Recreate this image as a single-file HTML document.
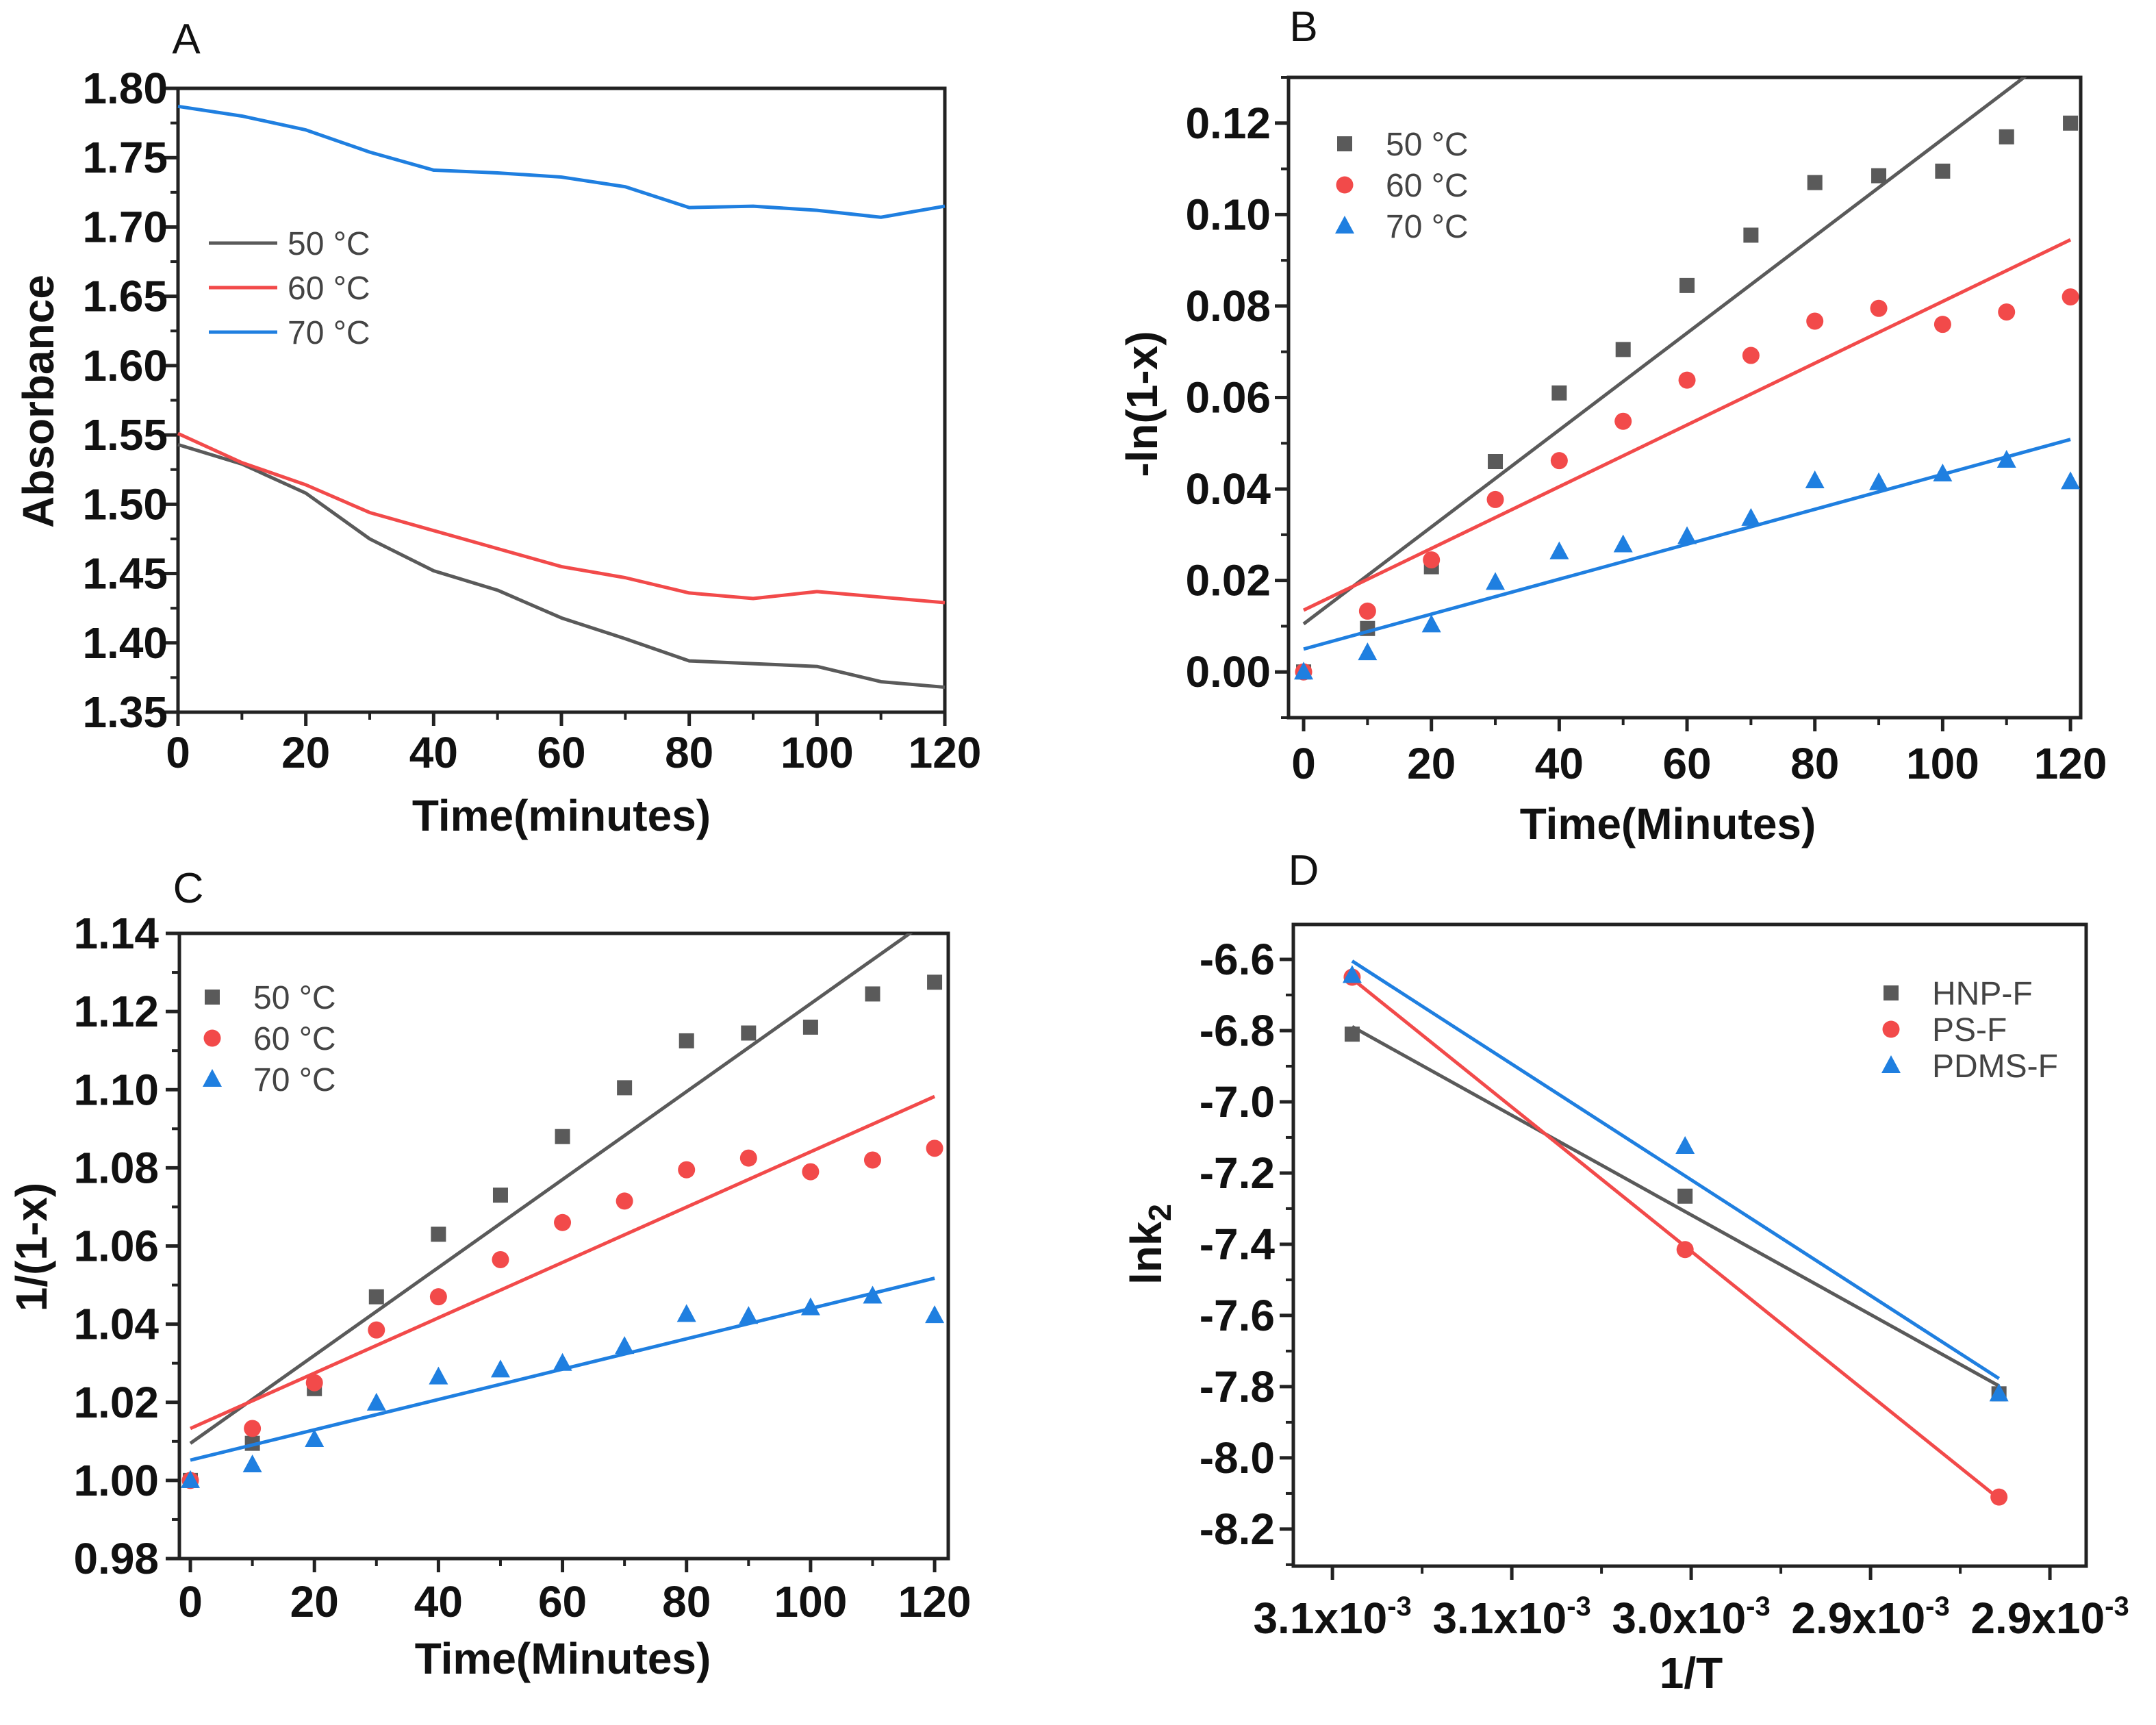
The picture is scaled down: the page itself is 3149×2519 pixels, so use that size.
<!DOCTYPE html>
<html><head><meta charset="utf-8">
<style>html,body{margin:0;padding:0;background:#fff}svg{display:block}
text{font-family:"Liberation Sans",Arial,sans-serif}</style></head>
<body>
<svg id="fig" xmlns="http://www.w3.org/2000/svg" width="3149" height="2519" viewBox="0 0 3149 2519"></svg>
<script>
// ---------- DATA ----------
const timeMin = [0,10,20,30,40,50,60,70,80,90,100,110,120];
const seriesNames = ["50 °C","60 °C","70 °C"];
const absorb50 = [1.543,1.529,1.508,1.475,1.452,1.438,1.418,1.403,1.387,1.385,1.383,1.372,1.368];
const absorb60 = [1.551,1.530,1.514,1.494,1.481,1.468,1.455,1.447,1.436,1.432,1.437,1.433,1.429];
const absorb70 = [1.787,1.780,1.770,1.754,1.741,1.739,1.736,1.729,1.714,1.715,1.712,1.707,1.715];
const lnB50 = [0,0.0095,0.023,0.046,0.061,0.0705,0.0845,0.0955,0.107,0.1085,0.1095,0.117,0.120];
const lnB60 = [0,0.0133,0.0245,0.0377,0.0462,0.0548,0.0638,0.0692,0.0767,0.0795,0.076,0.0787,0.082];
const lnB70 = [0,0.0042,0.0103,0.0196,0.0263,0.0278,0.0296,0.0336,0.0418,0.0414,0.0433,0.0463,0.0416];
const fitBIntercept = [0.0105,0.0135,0.0050];
const fitBSlope = [0.00106,0.000675,0.000382];
const invC50 = [1.0,1.0095,1.0235,1.047,1.063,1.073,1.088,1.1005,1.1125,1.1145,1.116,1.1245,1.1275];
const invC60 = [1.0,1.0133,1.025,1.0385,1.047,1.0565,1.066,1.0715,1.0795,1.0825,1.079,1.082,1.085];
const invC70 = [1.0,1.004,1.0105,1.0198,1.0265,1.0283,1.0300,1.0343,1.0425,1.042,1.0442,1.0472,1.0422];
const fitCIntercept = [1.0095,1.0133,1.0052];
const fitCSlope = [0.001125,0.000708,0.000388];
const invT = [0.0030945,0.0030017,0.0029142];
const dNames = ["HNP-F","PS-F","PDMS-F"];
const lnkHNP = [-6.81,-7.265,-7.82];
const lnkPS = [-6.65,-7.415,-8.11];
const lnkPDMS = [-6.645,-7.125,-7.82];
const ticksA_y = [1.35,1.40,1.45,1.50,1.55,1.60,1.65,1.70,1.75,1.80];
const ticksTime = [0,20,40,60,80,100,120];
const ticksB_y = [0,0.02,0.04,0.06,0.08,0.10,0.12];
const ticksC_y = [0.98,1.00,1.02,1.04,1.06,1.08,1.10,1.12,1.14];
const ticksD_y = [-8.2,-8.0,-7.8,-7.6,-7.4,-7.2,-7.0,-6.8,-6.6];
const ticksD_x = [0.00310,0.00305,0.00300,0.00295,0.00290];
const ticksD_xLabels = ["3.1","3.1","3.0","2.9","2.9"];

// ---------- HELPERS ----------
const NS="http://www.w3.org/2000/svg";
const svg=document.getElementById('fig');
const COLORS=["#5a5a5a","#f24a4a","#1f7fe0"];
function mk(tag,attrs,parent){const e=document.createElementNS(NS,tag);for(const k in attrs)e.setAttribute(k,attrs[k]);(parent||svg).appendChild(e);return e;}
function txt(s,x,y,size,weight,anchor,parent){const t=mk('text',{x:x,y:y,'font-size':size,'font-weight':weight||'normal','text-anchor':anchor||'middle',fill:'#111'},parent);t.textContent=s;return t;}

function makePanel(name,box,xr,yr){
  const g=mk('g',{});
  
  
  const sx=v=>box.x0+(v-xr[0])/(xr[1]-xr[0])*(box.x1-box.x0);
  const sy=v=>box.y1-(v-yr[0])/(yr[1]-yr[0])*(box.y1-box.y0);
  const cid='clip-'+name;
  const cp=mk('clipPath',{id:cid},g);
  mk('rect',{x:box.x0,y:box.y0,width:box.x1-box.x0,height:box.y1-box.y0},cp);
  const frame=mk('rect',{x:box.x0,y:box.y0,width:box.x1-box.x0,height:box.y1-box.y0,fill:'none',stroke:'#222','stroke-width':5},g);
  
  
  return {g,sx,sy,box,cid};
}
function yAxis(P,ticks,minorStep,fmt,labelX){
  const ax=mk('g',{},P.g);
  
  
  const lo=Math.min(...ticks),hi=Math.max(...ticks);
  ticks.forEach(v=>{
    const y=P.sy(v);
    mk('line',{x1:P.box.x0-20,x2:P.box.x0,y1:y,y2:y,stroke:'#222','stroke-width':5},ax);
    const t=txt(fmt(v),labelX,y+22,64,'bold','end',ax);
    
    
  });
  for(let v=lo-minorStep;v<=hi+minorStep+1e-9;v+=minorStep*2){
    const y=P.sy(v); if(y<P.box.y0-1||y>P.box.y1+1)continue;
    mk('line',{x1:P.box.x0-11,x2:P.box.x0,y1:y,y2:y,stroke:'#222','stroke-width':4},ax);
  }
}
function xAxis(P,ticks,labels,labelY,minorVals){
  const ax=mk('g',{},P.g);
  
  
  ticks.forEach((v,i)=>{
    const x=P.sx(v);
    mk('line',{x1:x,x2:x,y1:P.box.y1,y2:P.box.y1+20,stroke:'#222','stroke-width':5},ax);
    if(labels){const t=txt(labels[i],x,labelY,64,'bold','middle',ax);
      
      }
  });
  minorVals.forEach(v=>{const x=P.sx(v);
    mk('line',{x1:x,x2:x,y1:P.box.y1,y2:P.box.y1+11,stroke:'#222','stroke-width':4},ax);});
}
function title(P,s,x,y,rot,name){
  const t=txt(s,x,y,64,'bold','middle',P.g);
  if(rot)t.setAttribute('transform','rotate(-90 '+x+' '+y+')');
  
  
  return t;
}
function marker(kind,x,y,color,parent){
  if(kind===0)return mk('rect',{x:x-11,y:y-11,width:22,height:22,fill:color},parent);
  if(kind===1)return mk('circle',{cx:x,cy:y,r:12.5,fill:color},parent);
  return mk('polygon',{points:(x)+','+(y-15)+' '+(x-14)+','+(y+11)+' '+(x+14)+','+(y+11),fill:color},parent);
}
function scatter(P,xs,ys,kind,color,name){
  const g=mk('g',{'clip-path':'url(#'+P.cid+')'},P.g);
  
  
  xs.forEach((xv,i)=>{const m=marker(kind,P.sx(xv),P.sy(ys[i]),color,g);
    
    });
}
function fitLine(P,xa,xb,b,m,color,name){
  const l=mk('line',{x1:P.sx(xa),y1:P.sy(b+m*xa),x2:P.sx(xb),y2:P.sy(b+m*xb),stroke:color,'stroke-width':5,'clip-path':'url(#'+P.cid+')'},P.g);
  
  
}
function legendEntry(P,kind,x,y,textX,label,color,isLine){
  const g=mk('g',{},P.g);
  
  
  if(isLine)mk('line',{x1:x-50,x2:x+50,y1:y,y2:y,stroke:color,'stroke-width':5},g);
  else marker(kind,x,y,color,g);
  const t=txt(label,textX,y+17,48,'normal','start',g);t.setAttribute('fill','#444');
}
function panelLetter(s,x,y){const t=txt(s,x,y,62,'normal','middle');
  
  }
const timeMinor=[10,30,50,70,90,110];

// ---------- PANEL A ----------
{
  const P=makePanel('panel-a-absorbance',{x0:260,x1:1380,y0:129,y1:1040},[0,120],[1.35,1.80]);
  yAxis(P,ticksA_y,0.025,v=>v.toFixed(2),245);
  xAxis(P,ticksTime,ticksTime.map(String),1121,timeMinor);
  title(P,'Absorbance',78,586,true,'y-axis-title');
  title(P,'Time(minutes)',820,1213,false,'x-axis-title');
  [absorb50,absorb60,absorb70].forEach((arr,k)=>{
    const pts=timeMin.map((t,i)=>P.sx(t)+','+P.sy(arr[i])).join(' ');
    const pl=mk('polyline',{points:pts,fill:'none',stroke:COLORS[k],'stroke-width':5,'stroke-linejoin':'round'},P.g);
    
    
    legendEntry(P,k,355,355+k*65,420,seriesNames[k],COLORS[k],true);
  });
  panelLetter('A',272,78);
}
// ---------- PANEL B ----------
{
  const P=makePanel('panel-b-first-order',{x0:1882,x1:3039,y0:113,y1:1048},[-2.36,121.6],[-0.01,0.13]);
  yAxis(P,ticksB_y,0.01,v=>v.toFixed(2),1856);
  xAxis(P,ticksTime,ticksTime.map(String),1137,timeMinor);
  title(P,'-ln(1-x)',1690,590,true,'y-axis-title');
  title(P,'Time(Minutes)',2436,1225,false,'x-axis-title');
  [lnB50,lnB60,lnB70].forEach((arr,k)=>{
    fitLine(P,0,120,fitBIntercept[k],fitBSlope[k],COLORS[k],'fit-line-'+(50+10*k)+'c');
    scatter(P,timeMin,arr,k,COLORS[k],'series-'+(50+10*k)+'c');
    legendEntry(P,k,1964,210+k*60,2024,seriesNames[k],COLORS[k],false);
  });
  panelLetter('B',1904,60);
}
// ---------- PANEL C ----------
{
  const P=makePanel('panel-c-second-order',{x0:262,x1:1385,y0:1363,y1:2276},[-1.77,122.2],[0.98,1.14]);
  yAxis(P,ticksC_y,0.01,v=>v.toFixed(2),232);
  xAxis(P,ticksTime,ticksTime.map(String),2361,timeMinor);
  title(P,'1/(1-x)',68,1821,true,'y-axis-title');
  title(P,'Time(Minutes)',822,2444,false,'x-axis-title');
  [invC50,invC60,invC70].forEach((arr,k)=>{
    fitLine(P,0,120,fitCIntercept[k],fitCSlope[k],COLORS[k],'fit-line-'+(50+10*k)+'c');
    scatter(P,timeMin,arr,k,COLORS[k],'series-'+(50+10*k)+'c');
    legendEntry(P,k,310,1456+k*60,370,seriesNames[k],COLORS[k],false);
  });
  panelLetter('C',275,1318);
}
// ---------- PANEL D ----------
{
  const P=makePanel('panel-d-arrhenius',{x0:1889,x1:3047,y0:1350,y1:2287},[0.0031109,0.0028899],[-8.304,-6.502]);
  yAxis(P,ticksD_y,0.1,v=>v.toFixed(1),1862);
  xAxis(P,ticksD_x,null,0,[0.003075,0.003025,0.002975,0.002925]);
  ticksD_x.forEach((v,i)=>{
    const t=txt('',P.sx(v),2385,64,'bold','middle',P.g);
    
    
    const a=mk('tspan',{},t);a.textContent=ticksD_xLabels[i]+'x10';
    const b=mk('tspan',{'font-size':40,dy:-26},t);b.textContent='-3';
  });
  const yt=txt('',1696,1817,64,'bold','middle',P.g);
  yt.setAttribute('transform','rotate(-90 1696 1817)');
  
  
  const y1=mk('tspan',{},yt);y1.textContent='lnk';
  const y2=mk('tspan',{'font-size':46,dy:14},yt);y2.textContent='2';
  title(P,'1/T',2470,2465,false,'x-axis-title');
  [lnkHNP,lnkPS,lnkPDMS].forEach((arr,k)=>{
    const n=invT.length,mx=invT.reduce((a,b)=>a+b)/n,my=arr.reduce((a,b)=>a+b)/n;
    let num=0,den=0;invT.forEach((x,i)=>{num+=(x-mx)*(arr[i]-my);den+=(x-mx)*(x-mx);});
    const m=num/den,b=my-m*mx;
    fitLine(P,invT[0],invT[n-1],b,m,COLORS[k],'fit-line-'+dNames[k].toLowerCase());
    scatter(P,invT,arr,k,COLORS[k],'series-'+dNames[k].toLowerCase());
    legendEntry(P,k,2762,1450+k*53,2822,dNames[k],COLORS[k],false);
  });
  panelLetter('D',1904,1292);
}
</script>
</body></html>
